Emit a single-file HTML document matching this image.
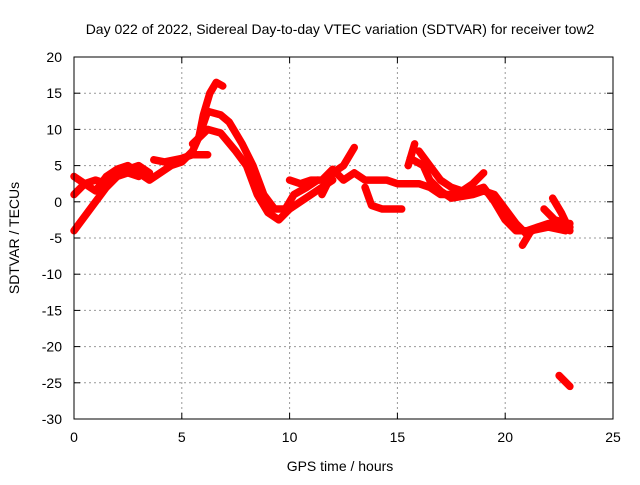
<!DOCTYPE html>
<html><head><meta charset="utf-8"><style>
body{margin:0;background:#fff}
svg text{font-family:"Liberation Sans",sans-serif;font-size:14px;fill:#000}
</style></head><body>
<svg width="640" height="480" xmlns="http://www.w3.org/2000/svg">
<rect width="640" height="480" fill="#fff"/>
<g id="grid"></g>
<g id="marks"></g>
<rect x="74" y="57" width="539" height="362" fill="none" stroke="#000" stroke-width="1"/>
<g id="ticks"></g>
<text x="340" y="34" text-anchor="middle">Day 022 of 2022, Sidereal Day-to-day VTEC variation (SDTVAR) for receiver tow2</text>
<text x="340" y="471" text-anchor="middle">GPS time / hours</text>
<text x="19" y="238" text-anchor="middle" transform="rotate(-90 19 238)">SDTVAR / TECUs</text>
</svg>
<script>
const xTicks=[0,5,10,15,20,25];
const yTicks=[20,15,10,5,0,-5,-10,-15,-20,-25,-30];
const s1=[[0,3.5],[0.5,2.5],[1,1.5],[1.5,3.5],[2,4.5],[2.5,5],[3,4],[3.5,3],[4,4],[4.5,5],[5,5.5],[5.5,7],[5.8,9],[6,12],[6.3,15],[6.6,16.5],[6.9,16]];
const s2=[[3.7,5.8],[4.2,5.5],[5,6],[5.5,6.5],[6.2,6.5]];
const s3=[[5.8,9],[6.2,12.5],[6.8,12],[7.2,11],[7.8,8],[8.3,5],[8.8,1],[9.3,-1],[9.8,-1],[10.2,1],[10.8,2],[11.3,3]];
const s4=[[5.5,8],[6.2,10],[6.8,9.5],[7.5,7],[8,5],[8.5,1],[9,-1.5],[9.5,-2.5],[10,-1],[10.5,0],[11,1],[11.5,2],[12,3]];
const s5=[[0,-4],[0.5,-2],[1,0],[1.5,2],[2,3.5],[2.5,4],[3,3.5]];
const s6=[[0,1],[0.5,2.5],[1,3],[1.5,2.5],[2,4],[2.5,4.5],[3,5],[3.5,4]];
const s7=[[10,3],[10.5,2.5],[11,3],[11.5,3],[12,4.5],[12.5,3],[13,4],[13.5,3],[14,3],[14.5,3],[15,2.5],[15.5,2.5],[16,2.5],[16.5,2],[17,1],[17.5,1],[18,1],[18.5,1.5],[19,2],[19.5,0],[20,-2.5],[20.5,-4],[21,-4],[21.5,-3.5],[22,-3],[22.5,-3],[23,-3.5]];
const s8=[[11.5,1],[12,4],[12.5,5],[13,7.5]];
const s9=[[13.5,2],[13.8,-0.5],[14.3,-1],[15.2,-1]];
const s10=[[15.5,5],[15.8,8]];
const s11=[[16,7],[16.5,5],[17,3],[17.5,2],[18,1.5],[18.5,2.5],[19,4]];
const s12=[[15.6,6],[16.2,5],[16.5,3],[17,1.5],[17.5,0.5],[18.5,1],[19,1.5],[19.5,1],[20,-1],[20.5,-3],[21,-4.5],[21.5,-3.5],[22.5,-3],[23,-3]];
const s13=[[20.8,-6],[21.2,-4],[22,-3.5],[22.8,-4]];
const s14=[[22.2,0.5],[22.6,-1.5],[23,-4]];
const s15=[[21.8,-1],[22.3,-2.5],[22.9,-3]];
const s16=[[22.5,-24],[23,-25.5]];
const series=[s1,s2,s3,s4,s5,s6,s7,s8,s9,s10,s11,s12,s13,s14,s15,s16];
const X=h=>74+h*(539/25);
const Y=v=>57+(20-v)*(362/50);
const NS="http://www.w3.org/2000/svg";
const grid=document.getElementById('grid'),ticks=document.getElementById('ticks'),marks=document.getElementById('marks');
function mk(t,a,p){const e=document.createElementNS(NS,t);for(const k in a)e.setAttribute(k,a[k]);p.appendChild(e);return e;}
xTicks.forEach(t=>{
 const x=X(t);
 if(t>0&&t<25){const g=mk('line',{x1:x,x2:x,y1:57,y2:419,stroke:'#999','stroke-dasharray':'2,3'},grid);
 
 }
 mk('line',{x1:x,x2:x,y1:419,y2:413,stroke:'#000'},ticks);
 mk('line',{x1:x,x2:x,y1:57,y2:63,stroke:'#000'},ticks);
 const l=mk('text',{x:x,y:442,'text-anchor':'middle'},ticks);l.textContent=t;
 
 
});
yTicks.forEach(t=>{
 const y=Y(t);
 if(t<20&&t>-30){const g=mk('line',{x1:74,x2:613,y1:y,y2:y,stroke:'#999','stroke-dasharray':'2,3'},grid);
 
 }
 mk('line',{x1:74,x2:80,y1:y,y2:y,stroke:'#000'},ticks);
 mk('line',{x1:613,x2:607,y1:y,y2:y,stroke:'#000'},ticks);
 const l=mk('text',{x:62,y:y+5,'text-anchor':'end'},ticks);l.textContent=t;
 
 
});
series.forEach((s,i)=>{
 const p=mk('polyline',{points:s.map(d=>X(d[0])+','+Y(d[1])).join(' '),fill:'none',stroke:'#f00','stroke-width':7.5,'stroke-linejoin':'round','stroke-linecap':'round'},marks);
 
 
});
</script>
</body></html>
